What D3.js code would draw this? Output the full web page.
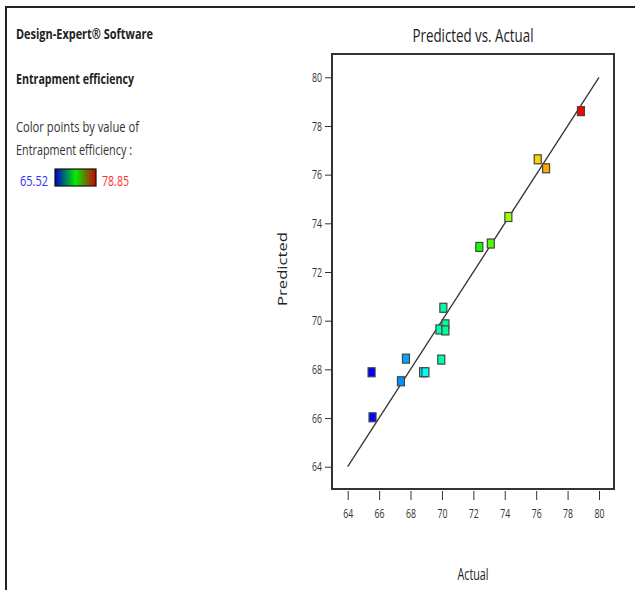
<!DOCTYPE html>
<html lang="en">
<head>
<meta charset="UTF-8">
<title>Predicted vs. Actual</title>
<style>
    body { margin: 0; background: #fff; }
    svg text { font-family: "Open Sans", "Noto Sans", sans-serif; fill: #222; }
    .tick line { stroke: #333; }
</style>
</head>
<body>
<svg id="chart" width="635" height="590"></svg>
<script src="https://cdn.jsdelivr.net/npm/d3@7"></script>
<script>
// values
const actual    = [78.85, 76.10, 76.63, 74.23, 73.11, 72.38, 70.09, 69.84, 70.22, 70.22, 69.96, 67.71, 68.80, 68.95, 67.39, 65.52, 65.58];
const predicted = [78.61, 76.63, 76.26, 74.26, 73.17, 73.03, 70.53, 69.64, 69.85, 69.60, 68.40, 68.44, 67.88, 67.88, 67.51, 67.88, 66.03];
const ticks = [64, 66, 68, 70, 72, 74, 76, 78, 80];
const colorRange = [65.52, 78.85];

const svg = d3.select("#chart");

// outer frame
svg.append("path").attr("d", "M6,590 L6,7 L635,7")
    .attr("fill", "none").attr("stroke", "#222").attr("stroke-width", 2);

// left side texts
function txt(x, y, s, opts) {
    const t = svg.append("text").attr("x", x).attr("y", y).text(s)
        .attr("font-size", opts.size || 14)
        .attr("textLength", opts.len).attr("lengthAdjust", "spacingAndGlyphs");
    if (opts.bold) t.attr("font-weight", "bold");
    if (opts.fill) t.style("fill", opts.fill);
    if (opts.anchor) t.attr("text-anchor", opts.anchor);
    return t;
}
txt(16, 39, "Design-Expert® Software", {bold: true, len: 137, size: 15});
txt(16, 84, "Entrapment efficiency", {bold: true, len: 118, size: 15});
txt(16, 132, "Color points by value of", {len: 123, fill: "#333", size: 15});
txt(16, 155, "Entrapment efficiency :", {len: 116, fill: "#333", size: 15});
txt(20, 186, colorRange[0].toFixed(2), {len: 28, fill: "#3030ff", size: 15});
txt(102, 186, colorRange[1].toFixed(2), {len: 27, fill: "#ff3030", size: 15});

// legend gradient
const grad = svg.append("defs").append("linearGradient").attr("id", "lg");
grad.append("stop").attr("offset", "0%").attr("stop-color", "#0000cc");
grad.append("stop").attr("offset", "50%").attr("stop-color", "#00ee00");
grad.append("stop").attr("offset", "100%").attr("stop-color", "#cc0000");
svg.append("rect").attr("x", 55).attr("y", 169).attr("width", 41).attr("height", 17)
    .attr("fill", "url(#lg)").attr("stroke", "#111").attr("stroke-width", 1.2);

// plot area
const box = {left: 332, right: 614, top: 54, bottom: 489};
const x = d3.scaleLinear().domain([64, 80]).range([347.7, 599]);
const y = d3.scaleLinear().domain([64, 80]).range([466.7, 77.3]);
const hue = d3.scaleLinear().domain(colorRange).range([240, 0]);

svg.append("rect").attr("x", box.left).attr("y", box.top)
    .attr("width", box.right - box.left).attr("height", box.bottom - box.top)
    .attr("fill", "none").attr("stroke", "#333").attr("stroke-width", 2);

const xAxis = svg.append("g").attr("transform", "translate(0," + (box.bottom + 2) + ")")
    .call(d3.axisBottom(x).tickValues(ticks).tickSize(9).tickSizeOuter(0).tickPadding(9).tickFormat(d3.format("d")));
const yAxis = svg.append("g").attr("transform", "translate(" + (box.left - 1) + ",0)")
    .call(d3.axisLeft(y).tickValues(ticks).tickSize(6).tickSizeOuter(0).tickPadding(3).tickFormat(d3.format("d")));
[xAxis, yAxis].forEach(a => {
    a.select(".domain").remove();
    a.selectAll("text").attr("font-size", 13).attr("font-family", null)
        .attr("textLength", 10).attr("lengthAdjust", "spacingAndGlyphs").style("fill", "#333");
});

// diagonal line
svg.append("line")
    .attr("x1", x(64)).attr("y1", y(64)).attr("x2", x(80)).attr("y2", y(80))
    .attr("stroke", "#333").attr("stroke-width", 1.3);

// points
svg.selectAll("rect.pt").data(actual).enter().append("rect")
    .attr("class", "pt")
    .attr("x", d => x(d) - 3.5)
    .attr("y", (d, i) => y(predicted[i]) - 4.5)
    .attr("width", 7).attr("height", 9)
    .attr("fill", d => d3.hsl(hue(d), 1, 0.5))
    .attr("stroke", "#444").attr("stroke-width", 1.2);

// titles
txt(473, 42, "Predicted vs. Actual", {size: 18, len: 121, anchor: "middle"});
txt(473, 580, "Actual", {size: 16, len: 31, anchor: "middle"});
svg.append("text").attr("transform", "translate(287,269) rotate(-90)")
    .attr("text-anchor", "middle").attr("font-size", 13)
    .attr("font-family", "Liberation Sans, Arial, sans-serif")
    .attr("textLength", 74).attr("lengthAdjust", "spacingAndGlyphs")
    .text("Predicted");
</script>
</body>
</html>
